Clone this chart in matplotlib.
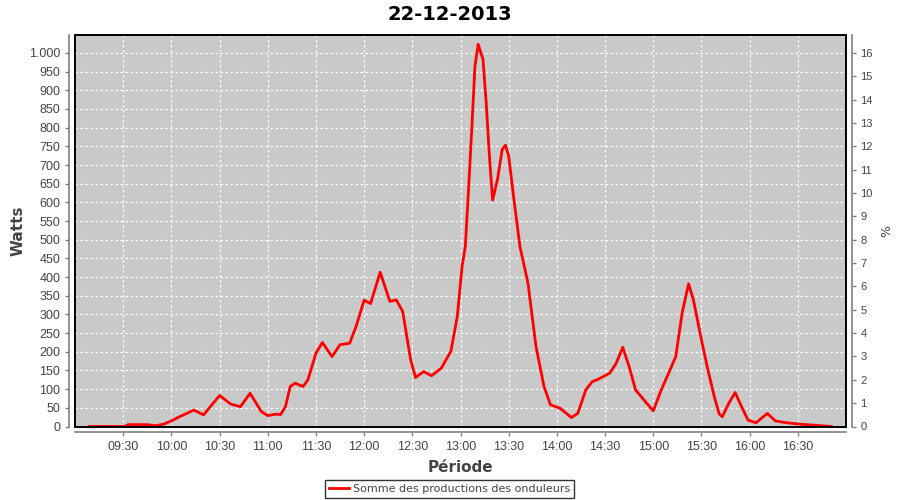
import matplotlib
matplotlib.use("Agg")
import matplotlib.pyplot as plt
from matplotlib.ticker import FuncFormatter, MultipleLocator
from matplotlib.patches import Rectangle

heures = ["09:09", "09:20", "09:31", "09:33", "09:45", "09:50", "09:55", "10:00",
          "10:05", "10:14", "10:20", "10:30", "10:37", "10:43", "10:49", "10:56",
          "11:00", "11:05", "11:08", "11:11", "11:14", "11:17", "11:22", "11:25",
          "11:30", "11:34", "11:40", "11:45", "11:51", "11:55", "12:00", "12:04",
          "12:10", "12:16", "12:20", "12:24", "12:29", "12:32", "12:37", "12:42",
          "12:48", "12:54", "12:58", "13:01", "13:03", "13:05", "13:07", "13:09",
          "13:11", "13:14", "13:16", "13:18", "13:20", "13:23", "13:26", "13:28",
          "13:30", "13:33", "13:37", "13:42", "13:47", "13:52", "13:56", "14:02",
          "14:09", "14:13", "14:18", "14:22", "14:26", "14:33", "14:37", "14:41",
          "14:45", "14:49", "14:55", "15:00", "15:05", "15:10", "15:14", "15:18",
          "15:22", "15:25", "15:30", "15:34", "15:38", "15:41", "15:43", "15:47",
          "15:51", "15:55", "15:59", "16:04", "16:11", "16:16", "16:23", "16:32",
          "16:42", "16:51"]
watts = [0, 0, 0, 5, 5, 2, 6, 15,
         26, 44, 31, 83, 60, 53, 89, 40,
         29, 33, 32, 53, 107, 116, 107, 125,
         196, 225, 187, 219, 223, 268, 338, 329,
         413, 335, 339, 308, 178, 131, 147, 136,
         156, 201, 295, 429, 482, 634, 795, 965,
         1023, 983, 867, 724, 606, 661, 742, 753,
         724, 617, 482, 384, 214, 107, 58, 49,
         24, 35, 98, 120, 127, 143, 170, 212,
         160, 98, 67, 42, 98, 147, 187, 304,
         382, 339, 232, 152, 80, 34, 26, 62,
         91, 53, 17, 10, 35, 15, 10, 6,
         3, 0]

titre = "22-12-2013"
serie = "Somme des productions des onduleurs"

minutes = [int(h[:2]) * 60 + int(h[3:]) for h in heures]

W_MAX = 1048
RATIO = 62.5   # watts par %
TICKFONT = "Liberation Sans"

fig = plt.figure(figsize=(9, 5), dpi=100)
ax = fig.add_axes([75/900, 1-426.5/500, (846-75)/900, (426.5-35)/500])
ax.set_facecolor("#c9c9c9")

ax.plot(minutes, watts, color="#ff0000", lw=2.0, zorder=3, solid_joinstyle="round")

ax.set_xlim(540, 1020)
ax.set_ylim(0, W_MAX)
ax.yaxis.set_major_locator(MultipleLocator(50))
ax.xaxis.set_major_formatter(FuncFormatter(lambda v, p: "%02d:%02d" % (v // 60, v % 60)))
ax.yaxis.set_major_formatter(FuncFormatter(lambda v, p: f"{v:,.0f}".replace(",", ".")))
ax.set_xticks([t for t in range(570, 1020, 30)])

ax.grid(True, color="white", ls=(0, (2, 2)), lw=0.9)
ax.set_axisbelow(True)

for s in ["left", "bottom"]:
    ax.spines[s].set_position(("outward", 4))
    ax.spines[s].set_color("#808080")
    ax.spines[s].set_linewidth(1.2)
ax.spines["top"].set_visible(False)
ax.spines["right"].set_visible(False)
ax.add_patch(Rectangle((0, 0), 1, 1, transform=ax.transAxes, fill=False,
                       ec="black", lw=1.4, clip_on=False, zorder=5))

ax.tick_params(colors="#808080", labelcolor="#444444", labelsize=9, length=3, width=1)
for lab in ax.get_xticklabels() + ax.get_yticklabels():
    lab.set_fontfamily(TICKFONT)
ax.set_ylabel("Watts", fontsize=11, fontweight="bold", color="#444444")
ax.yaxis.set_label_coords(-0.064, 0.5)
ax.set_xlabel("Période", fontsize=11, fontweight="bold", color="#444444")
ax.xaxis.set_label_coords(0.5, -0.085)

ax2 = ax.twinx()
ax2.set_ylim(0, W_MAX / RATIO)
ax2.yaxis.set_major_locator(MultipleLocator(1))
for s in ["left", "bottom", "top"]:
    ax2.spines[s].set_visible(False)
ax2.spines["right"].set_position(("outward", 4))
ax2.spines["right"].set_color("#808080")
ax2.spines["right"].set_linewidth(1.2)
ax2.tick_params(colors="#808080", labelcolor="#444444", labelsize=8, length=3, width=1)
for lab in ax2.get_yticklabels():
    lab.set_fontfamily(TICKFONT)
ax2.set_ylabel("%", fontsize=9, color="#444444")
ax2.yaxis.set_label_coords(1.044, 0.5)

fig.text(0.5, 1 - 14/500, titre, fontsize=14, fontweight="bold", ha="center", va="center")

leg = fig.legend([ax.lines[0]], [serie], loc="lower center", bbox_to_anchor=(0.4994, 0.004),
                 fontsize=8, frameon=True, fancybox=False, handlelength=1.8,
                 borderpad=0.35, handletextpad=0.3, borderaxespad=0)
leg.get_frame().set_edgecolor("black")
leg.get_frame().set_linewidth(1.0)
for t in leg.get_texts():
    t.set_color("#444444")

fig.savefig("out.png", dpi=100, facecolor="white")
